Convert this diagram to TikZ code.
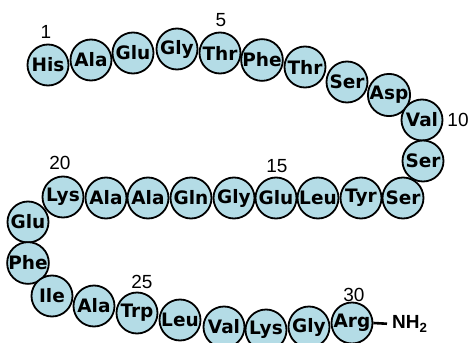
\documentclass[tikz,border=0pt]{standalone}
\usepackage{fontspec}
\setmainfont{Liberation Sans}
\newfontfamily\resfont{DejaVu Sans Bold}
\newfontfamily\nhfont{Liberation Sans Bold}
\definecolor{resfill}{HTML}{B4DCE6}
\tikzset{
  res/.style={circle, draw=black, line width=1.8pt, fill=resfill, minimum size=41pt, inner sep=0pt, font=\resfont\fontsize{18.5}{18.5}\selectfont},
  num/.style={font=\fontsize{19}{19}\selectfont, inner sep=0pt},
  bond/.style={line width=2.6pt}
}
\begin{document}
\begin{tikzpicture}[x=1pt,y=-1pt]
\useasboundingbox (0,0) rectangle (469,343);
% residues 1-11
\node[res] (r1) at (48,65) {His};
\node[res] (r2) at (91,60) {Ala};
\node[res] (r3) at (133,53) {Glu};
\node[res] (r4) at (177,49) {Gly};
\node[res] (r5) at (220,53) {Thr};
\node[res] (r6) at (262,60) {Phe};
\node[res] (r7) at (305,67) {Thr};
\node[res] (r8) at (347,82) {Ser};
\node[res] (r9) at (389,95) {Asp};
\node[res] (r10) at (422,120) {Val};
\node[res] (r11) at (423,161) {Ser};
% residues 12-20
\node[res] (r12) at (403,198) {Ser};
\node[res] (r13) at (361,198) {Tyr};
\node[res] (r14) at (318,198) {Leu};
\node[res] (r15) at (276,198) {Glu};
\node[res] (r16) at (234,198) {Gly};
\node[res] (r17) at (191,198) {Gln};
\node[res] (r18) at (148,198) {Ala};
\node[res] (r19) at (106,198) {Ala};
\node[res] (r20) at (63,197) {Lys};
% residues 21-30
\node[res] (r21) at (28,222) {Glu};
\node[res] (r22) at (28,263) {Phe};
\node[res] (r23) at (52,296) {Ile};
\node[res] (r24) at (94,306) {Ala};
\node[res] (r25) at (137,313) {Trp};
\node[res] (r26) at (180,320) {Leu};
\node[res] (r27) at (224,327) {Val};
\node[res] (r28) at (266,330) {Lys};
\node[res] (r29) at (309,327) {Gly};
\node[res] (r30) at (352,323) {Arg};
% C-terminal amide
\node[anchor=west, inner sep=0pt, font=\nhfont\fontsize{19}{19}\selectfont] (nh) at (392,324) {NH\textsubscript{2}};
\draw[bond, shorten >=5pt] (r30.east) -- (nh.west);
% position numbers
\node[num] (n1) at (46,32) {1};
\node[num] (n5) at (221,20) {5};
\node[num] (n10) at (458,120) {10};
\node[num] (n15) at (277,166) {15};
\node[num] (n20) at (60,163) {20};
\node[num] (n25) at (142,282) {25};
\node[num] (n30) at (354,295) {30};
\end{tikzpicture}
\end{document}
